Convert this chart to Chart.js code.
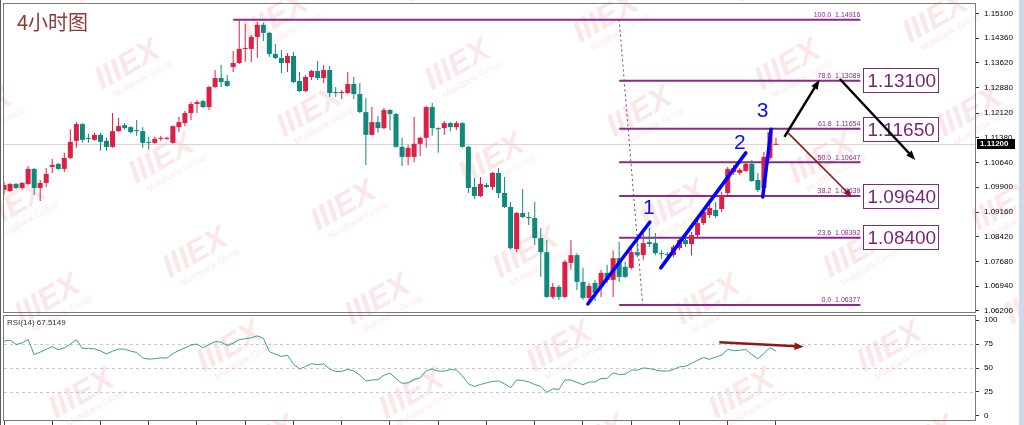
<!DOCTYPE html>
<html>
<head>
<meta charset="utf-8">
<title>4小时图</title>
<script src="https://cdn.jsdelivr.net/npm/chart.js@4.4.1/dist/chart.umd.min.js"></script>
<style>
  html, body { margin: 0; padding: 0; background: #fff; }
  body { width: 1024px; height: 425px; position: relative; overflow: hidden; }
  canvas { position: absolute; left: 0; }
  #main { top: 0; }
  #rsi { top: 313px; }
  .edge { position: absolute; top: 0; height: 425px; }
</style>
</head>
<body>
<canvas id="main" width="1024" height="313"></canvas>
<canvas id="rsi" width="1024" height="112"></canvas>
<div class="edge" style="left:0;width:1px;background:#5a5a5a"></div>
<div class="edge" style="left:1019px;width:5px;background:#cdd9e8"></div>
<script>
// 4H bars, index 0 = oldest bar on screen
const opens = [
  1.0982, 1.0979, 1.1000, 1.0988, 1.1000, 1.1045, 1.0988, 1.1003, 1.1051, 1.1060,
  1.1045, 1.1078, 1.1129, 1.1179, 1.1138, 1.1132, 1.1147, 1.1129, 1.1111, 1.1158,
  1.1176, 1.1170, 1.1161, 1.1158, 1.1126, 1.1123, 1.1135, 1.1135, 1.1123, 1.1170,
  1.1182, 1.1212, 1.1239, 1.1248, 1.1230, 1.1290, 1.1317, 1.1308, 1.1350, 1.1362,
  1.1404, 1.1404, 1.1440, 1.1476, 1.1452, 1.1389, 1.1377, 1.1362, 1.1383, 1.1308,
  1.1278, 1.1320, 1.1338, 1.1317, 1.1341, 1.1275, 1.1272, 1.1272, 1.1299, 1.1269,
  1.1215, 1.1147, 1.1185, 1.1167, 1.1221, 1.1209, 1.1111, 1.1081, 1.1081, 1.1120,
  1.1138, 1.1230, 1.1167, 1.1167, 1.1182, 1.1170, 1.1182, 1.1111, 1.0991, 1.0964,
  1.0997, 1.0991, 1.1033, 1.0973, 1.0931, 1.0805, 1.0913, 1.0901, 1.0898, 1.0838,
  1.0796, 1.0662, 1.0692, 1.0662, 1.0764, 1.0787, 1.0707, 1.0659, 1.0704, 1.0692,
  1.0734, 1.0713, 1.0778, 1.0752, 1.0749, 1.0796, 1.0787, 1.0826, 1.0823, 1.0793,
  1.0790, 1.0787, 1.0808, 1.0832, 1.0820, 1.0847, 1.0883, 1.0907, 1.0922, 1.0925,
  1.0973, 1.1036, 1.1033, 1.1039, 1.1060, 1.1012, 1.0988, 1.1078, 1.1117
];
const highs = [
  1.1006, 1.1003, 1.1003, 1.1006, 1.1054, 1.1048, 1.1012, 1.1048, 1.1075, 1.1063,
  1.1093, 1.1164, 1.1185, 1.1182, 1.1150, 1.1153, 1.1153, 1.1138, 1.1212, 1.1197,
  1.1182, 1.1173, 1.1191, 1.1170, 1.1141, 1.1141, 1.1144, 1.1141, 1.1176, 1.1200,
  1.1218, 1.1245, 1.1251, 1.1251, 1.1293, 1.1341, 1.1356, 1.1326, 1.1398, 1.1492,
  1.1479, 1.1446, 1.1485, 1.1482, 1.1455, 1.1419, 1.1401, 1.1392, 1.1395, 1.1335,
  1.1326, 1.1341, 1.1368, 1.1356, 1.1353, 1.1290, 1.1281, 1.1335, 1.1320, 1.1302,
  1.1257, 1.1230, 1.1203, 1.1227, 1.1224, 1.1212, 1.1138, 1.1117, 1.1200, 1.1141,
  1.1233, 1.1242, 1.1170, 1.1188, 1.1185, 1.1188, 1.1185, 1.1114, 1.1018, 1.1021,
  1.1003, 1.1036, 1.1048, 1.1021, 1.0946, 1.0916, 1.0985, 1.0916, 1.0946, 1.0868,
  1.0832, 1.0704, 1.0698, 1.0773, 1.0832, 1.0793, 1.0749, 1.0704, 1.0713, 1.0743,
  1.0758, 1.0802, 1.0826, 1.0767, 1.0811, 1.0841, 1.0853, 1.0868, 1.0853, 1.0802,
  1.0796, 1.0817, 1.0838, 1.0841, 1.0856, 1.0892, 1.0928, 1.0943, 1.0946, 1.0976,
  1.1051, 1.1057, 1.1048, 1.1066, 1.1072, 1.1033, 1.1096, 1.1165, 1.1138
];
const lows = [
  1.0967, 1.0976, 1.0985, 1.0982, 1.0997, 1.0967, 1.0949, 1.0991, 1.1033, 1.1042,
  1.1036, 1.1075, 1.1108, 1.1123, 1.1123, 1.1129, 1.1099, 1.1099, 1.1108, 1.1155,
  1.1164, 1.1152, 1.1144, 1.1108, 1.1102, 1.1120, 1.1129, 1.1132, 1.1120, 1.1155,
  1.1173, 1.1191, 1.1212, 1.1227, 1.1221, 1.1287, 1.1290, 1.1290, 1.1335, 1.1359,
  1.1365, 1.1365, 1.1377, 1.1428, 1.1380, 1.1374, 1.1332, 1.1335, 1.1302, 1.1275,
  1.1275, 1.1311, 1.1311, 1.1302, 1.1260, 1.1260, 1.1254, 1.1270, 1.1254, 1.1212,
  1.1057, 1.1144, 1.1153, 1.1164, 1.1161, 1.1108, 1.1054, 1.1057, 1.1066, 1.1084,
  1.1108, 1.1144, 1.1093, 1.1147, 1.1158, 1.1161, 1.1108, 1.0973, 1.0955, 1.0961,
  1.0988, 1.0982, 1.0958, 1.0928, 1.0805, 1.0796, 1.0898, 1.0877, 1.0817, 1.0722,
  1.0659, 1.0656, 1.0653, 1.0659, 1.0743, 1.0683, 1.0653, 1.0638, 1.0650, 1.0662,
  1.0704, 1.0662, 1.0707, 1.0719, 1.0743, 1.0781, 1.0773, 1.0811, 1.0787, 1.0776,
  1.0776, 1.0781, 1.0802, 1.0811, 1.0787, 1.0841, 1.0877, 1.0898, 1.0898, 1.0916,
  1.0967, 1.1027, 1.1027, 1.1036, 1.1006, 1.0976, 1.0961, 1.1072, 1.1117
];
const closes = [
  1.0997, 1.1000, 1.0988, 1.1003, 1.1045, 1.0988, 1.1003, 1.1030, 1.1057, 1.1045,
  1.1078, 1.1126, 1.1179, 1.1132, 1.1135, 1.1147, 1.1126, 1.1111, 1.1158, 1.1173,
  1.1167, 1.1155, 1.1158, 1.1123, 1.1123, 1.1135, 1.1138, 1.1138, 1.1173, 1.1185,
  1.1212, 1.1239, 1.1245, 1.1230, 1.1290, 1.1317, 1.1305, 1.1293, 1.1362, 1.1404,
  1.1407, 1.1440, 1.1476, 1.1452, 1.1389, 1.1377, 1.1362, 1.1383, 1.1305, 1.1278,
  1.1320, 1.1338, 1.1317, 1.1341, 1.1272, 1.1272, 1.1275, 1.1299, 1.1269, 1.1215,
  1.1147, 1.1185, 1.1167, 1.1221, 1.1209, 1.1111, 1.1081, 1.1108, 1.1120, 1.1138,
  1.1230, 1.1167, 1.1164, 1.1182, 1.1170, 1.1182, 1.1111, 1.0988, 1.0964, 1.1000,
  1.0991, 1.1033, 1.0973, 1.0931, 1.0808, 1.0913, 1.0901, 1.0898, 1.0838, 1.0796,
  1.0662, 1.0692, 1.0662, 1.0767, 1.0787, 1.0707, 1.0659, 1.0695, 1.0674, 1.0734,
  1.0713, 1.0778, 1.0722, 1.0722, 1.0796, 1.0787, 1.0823, 1.0820, 1.0793, 1.0790,
  1.0787, 1.0811, 1.0832, 1.0820, 1.0847, 1.0883, 1.0916, 1.0928, 1.0904, 1.0967,
  1.1045, 1.1048, 1.1042, 1.1060, 1.1009, 1.0982, 1.1081, 1.1155, 1.1120
];
const rsi = [
  78, 79, 74.5, 76, 79.8, 64, 66.5, 69.5, 72.4, 69,
  71, 74.8, 79.5, 70.5, 70.5, 70, 67.8, 64.6, 67.5, 69.8,
  69.6, 67.6, 66.2, 60.5, 59.2, 59.8, 60.6, 60.3, 65, 68.2,
  71, 74, 75, 71.2, 74.5, 77.5, 77, 73.5, 75.8, 79.5,
  80.6, 81.5, 83.5, 81, 67, 64.5, 62, 63.3, 54, 49,
  51.5, 54.5, 53.5, 54.3, 49, 46.4, 46.5, 48.5, 47, 42.5,
  36.5, 37.5, 37.8, 42.5, 44.6, 39, 34, 34.5, 38, 39.8,
  47, 49, 46.8, 46.8, 48.4, 48, 42, 33.5, 30.7, 32.8,
  34.5, 36, 36.5, 33.5, 29.5, 37.5, 37, 35.5, 32.8, 30.8,
  24.5, 28.4, 27.5, 37.5, 37.4, 35, 32.5, 35.3, 35.5, 39,
  39.2, 45, 43.2, 43.5, 47.8, 47.8, 50, 49.5, 48, 46.8,
  46.8, 48.5, 51.2, 51.8, 54.8, 58, 61, 59, 61.5, 63.5,
  69.5, 68, 68.5, 69.2, 64, 59.6, 65, 71.3, 67.5
];
const rsiLabel = 'RSI(14) 67.5149';

const priceTicks = [1.15100, 1.14360, 1.13620, 1.12880, 1.12120, 1.11380, 1.10640,
                    1.09900, 1.09160, 1.08420, 1.07680, 1.06940, 1.06200];
const rsiTicks = [0, 25, 50, 75, 100];
const rsiLevels = [25, 50, 75];
const timeTicks = [0, 8, 16, 24, 32, 40, 48, 56, 64, 72, 80, 88, 96, 104, 112, 120, 128];
const slots = 161;
const bid = 1.11200;

// fibonacci retracement
const fibLevels = ['100.0', '78.6', '61.8', '50.0', '38.2', '23.6', '0.0'];
const fibPrices = [1.14916, 1.13089, 1.11654, 1.10647, 1.09639, 1.08392, 1.06377];
const fibFrom = [38, 102, 102, 102, 102, 102, 102];
const fibTo = 142;
const fibDiag = [[102, 1.14916], [105.9, 1.06377]];

// boxed target prices
const targetPrices = [1.13100, 1.11650, 1.09640, 1.08400];
const targetAt = 142.5;

// wave count
const waveLines = [
  [[96.8, 1.0641], [107.1, 1.0886]],
  [[108.9, 1.0749], [123.0, 1.1093]],
  [[125.8, 1.0961], [127.2, 1.1164]]
];
const waveNames = ['1', '2', '3'];
const waveLabelAt = [[106.9, 1.0928], [122.0, 1.1123], [125.8, 1.1218]];

const blackArrows = [
  [[129.4, 1.1141], [135.2, 1.1311]],
  [[138.6, 1.1314], [151.1, 1.1072]]
];
const redArrow = [[130.0, 1.1153], [140.6, 1.0961]];
const rsiArrow = [[118.6, 76.8], [132.6, 72.2]];

const UP = '#dc1f45', DOWN = '#0f897b', FIB = '#8a2a8a';
const candleColors = closes.map((c, i) => c >= opens[i] ? UP : DOWN);

function drawArrow(ctx, x1, y1, x2, y2, color, w, head) {
  const ang = Math.atan2(y2 - y1, x2 - x1);
  ctx.strokeStyle = color;
  ctx.fillStyle = color;
  ctx.lineWidth = w;
  ctx.beginPath();
  ctx.moveTo(x1, y1);
  ctx.lineTo(x2 - Math.cos(ang) * head * 0.7, y2 - Math.sin(ang) * head * 0.7);
  ctx.stroke();
  ctx.beginPath();
  ctx.moveTo(x2, y2);
  ctx.lineTo(x2 - head * Math.cos(ang - 0.38), y2 - head * Math.sin(ang - 0.38));
  ctx.lineTo(x2 - head * Math.cos(ang + 0.38), y2 - head * Math.sin(ang + 0.38));
  ctx.closePath();
  ctx.fill();
}

// broker watermark, tiled over the whole window
function watermarks(offY) {
  return {
    id: 'marks',
    beforeDraw(chart) {
      const ctx = chart.ctx;
      ctx.save();
      ctx.fillStyle = 'rgba(225,60,80,0.13)';
      ctx.textAlign = 'center';
      for (let n = -2; n < 9; n++) {
        const y = 73 + 47 * n - offY;
        const x0 = ((132 + 182 * n) % 330 + 330) % 330;
        for (let x = x0 - 330; x < 1150; x += 330) {
          ctx.save();
          ctx.translate(x, y);
          ctx.rotate(-0.52);
          ctx.font = 'italic bold 32px "Liberation Sans"';
          ctx.fillText('IIIEX', 0, 0);
          ctx.font = '9px "Liberation Sans"';
          ctx.fillText('MultiBank Group', 6, 13);
          ctx.restore();
        }
      }
      ctx.restore();
    }
  };
}

const frame = {
  id: 'frame',
  afterDraw(chart) {
    const {ctx, chartArea: a} = chart;
    ctx.save();
    ctx.strokeStyle = '#7a7a7a';
    ctx.lineWidth = 1;
    ctx.strokeRect(a.left - 0.5, a.top - 0.5, a.right - a.left + 1, a.bottom - a.top + 1);
    ctx.restore();
  }
};

const mainNotes = {
  id: 'mainNotes',
  beforeDatasetsDraw(chart) {
    const {ctx, chartArea: a, scales: {y}} = chart;
    const py = Math.round(y.getPixelForValue(bid)) + 0.5;
    ctx.save();
    ctx.strokeStyle = '#dcd4d4';
    ctx.lineWidth = 1;
    ctx.beginPath();
    ctx.moveTo(a.left, py);
    ctx.lineTo(a.right, py);
    ctx.stroke();
    ctx.restore();
  },
  afterDatasetsDraw(chart) {
    const {ctx, scales: {x, y}} = chart;
    ctx.save();

    ctx.font = '7px "Liberation Sans"';
    ctx.fillStyle = FIB;
    ctx.textAlign = 'right';
    ctx.textBaseline = 'bottom';
    fibPrices.forEach((p, k) => {
      ctx.fillText(fibLevels[k] + '  ' + p.toFixed(5), x.getPixelForValue(fibTo), y.getPixelForValue(p) - 1);
    });

    ctx.textAlign = 'left';
    ctx.textBaseline = 'middle';
    ctx.lineWidth = 1;
    ctx.strokeStyle = '#7b2d7b';
    ctx.font = '19px "Liberation Sans"';
    targetPrices.forEach(p => {
      const left = Math.round(x.getPixelForValue(targetAt)) + 0.5;
      const top = Math.round(y.getPixelForValue(p) - 12) + 0.5;
      ctx.fillStyle = '#fff';
      ctx.fillRect(left, top, 75, 24);
      ctx.strokeRect(left, top, 75, 24);
      ctx.fillStyle = '#7a1f7a';
      ctx.fillText(p.toFixed(5), left + 4, top + 13);
    });

    ctx.font = '21px "Liberation Sans"';
    ctx.fillStyle = '#0a0aff';
    ctx.textAlign = 'center';
    waveLabelAt.forEach((pt, k) => {
      ctx.fillText(waveNames[k], x.getPixelForValue(pt[0]), y.getPixelForValue(pt[1]));
    });

    blackArrows.forEach(([a, b]) => {
      drawArrow(ctx, x.getPixelForValue(a[0]), y.getPixelForValue(a[1]),
                x.getPixelForValue(b[0]), y.getPixelForValue(b[1]), '#000', 2.5, 10);
    });
    drawArrow(ctx, x.getPixelForValue(redArrow[0][0]), y.getPixelForValue(redArrow[0][1]),
              x.getPixelForValue(redArrow[1][0]), y.getPixelForValue(redArrow[1][1]), '#8b1a1a', 1.6, 9);

    ctx.font = '20px "Noto Sans CJK SC"';
    ctx.fillStyle = '#8b3a3a';
    ctx.textAlign = 'left';
    ctx.textBaseline = 'middle';
    ctx.fillText('4小时图', 17, 22);
    ctx.restore();
  },
  afterDraw(chart) {
    const {ctx, scales: {y}} = chart;
    const py = Math.round(y.getPixelForValue(bid));
    ctx.save();
    ctx.fillStyle = '#000';
    ctx.fillRect(977, py - 5, 38, 10);
    ctx.fillStyle = '#fff';
    ctx.font = 'bold 8px "Liberation Sans"';
    ctx.textBaseline = 'middle';
    ctx.fillText(bid.toFixed(5), 980, py);
    ctx.restore();
  }
};

const rsiNotes = {
  id: 'rsiNotes',
  beforeDatasetsDraw(chart) {
    const {ctx, chartArea: a, scales: {y}} = chart;
    ctx.save();
    ctx.strokeStyle = '#d6c4c4';
    ctx.lineWidth = 1;
    ctx.setLineDash([3, 3]);
    rsiLevels.forEach(l => {
      const py = Math.round(y.getPixelForValue(l)) + 0.5;
      ctx.beginPath();
      ctx.moveTo(a.left, py);
      ctx.lineTo(a.right, py);
      ctx.stroke();
    });
    ctx.restore();
  },
  afterDatasetsDraw(chart) {
    const {ctx, scales: {x, y}} = chart;
    ctx.save();
    drawArrow(ctx, x.getPixelForValue(rsiArrow[0][0]), y.getPixelForValue(rsiArrow[0][1]),
              x.getPixelForValue(rsiArrow[1][0]), y.getPixelForValue(rsiArrow[1][1]), '#8b1a1a', 2.5, 10);
    ctx.font = '8px "Liberation Sans"';
    ctx.fillStyle = '#333';
    ctx.textBaseline = 'middle';
    ctx.fillText(rsiLabel, 7, 10);
    ctx.restore();
  }
};

const lineSet = (pts, color, width, order, dash) => ({
  type: 'line',
  order: order,
  data: pts.map(p => ({x: p[0], y: p[1]})),
  borderColor: color,
  borderWidth: width,
  borderDash: dash || [],
  pointRadius: 0,
  tension: 0,
  fill: false
});

const mainSets = [];
fibPrices.forEach((p, k) => mainSets.push(lineSet([[fibFrom[k], p], [fibTo, p]], FIB, 2, 10)));
mainSets.push(lineSet(fibDiag, FIB, 1, 9, [2, 3]));
mainSets.push({
  type: 'bar', order: 5, grouped: false,
  data: lows.map((l, i) => ({x: i, y: [l, highs[i]]})),
  backgroundColor: candleColors, barThickness: 1, borderWidth: 0, inflateAmount: 0
});
mainSets.push({
  type: 'bar', order: 4, grouped: false,
  data: opens.map((o, i) => ({x: i, y: [o, closes[i]]})),
  backgroundColor: candleColors, barThickness: 5, minBarLength: 1, borderWidth: 0, inflateAmount: 0
});
waveLines.forEach(w => {
  const s = lineSet(w, '#0000ff', 3.5, 1);
  s.borderCapStyle = 'round';
  mainSets.push(s);
});

const axisFont = {family: 'Liberation Sans', size: 8};
// keep the plot edge where the terminal puts it: no extra label padding
const fitRight = s => { s.width = 49; s.paddingTop = 0; s.paddingBottom = 0; };

new Chart(document.getElementById('main'), {
  type: 'bar',
  data: {datasets: mainSets},
  options: {
    responsive: false,
    animation: false,
    devicePixelRatio: 1,
    events: [],
    layout: {padding: {left: 4, top: 4, right: 0, bottom: 1}},
    plugins: {legend: {display: false}, tooltip: {enabled: false}},
    scales: {
      x: {type: 'linear', min: 0, max: slots, offset: false, display: false},
      y: {
        position: 'right', min: 1.06169, max: 1.15384, beginAtZero: false,
        afterFit: fitRight,
        afterBuildTicks: s => { s.ticks = priceTicks.map(v => ({value: v})); },
        ticks: {callback: v => v.toFixed(5), color: '#000', font: axisFont, padding: 5, autoSkip: false},
        grid: {drawOnChartArea: false, tickLength: 4, tickColor: '#333'},
        border: {display: false}
      }
    }
  },
  plugins: [watermarks(0), mainNotes, frame]
});

new Chart(document.getElementById('rsi'), {
  type: 'line',
  data: {
    datasets: [{
      data: rsi.map((v, i) => ({x: i, y: v})),
      borderColor: '#3a9c9c', borderWidth: 1, pointRadius: 0, tension: 0, fill: false
    }]
  },
  options: {
    responsive: false,
    animation: false,
    devicePixelRatio: 1,
    events: [],
    layout: {padding: {left: 4, top: 3, right: 0, bottom: 0}},
    plugins: {legend: {display: false}, tooltip: {enabled: false}},
    scales: {
      x: {
        type: 'linear', min: 0, max: slots, offset: false,
        afterFit: s => { s.height = 5; s.paddingLeft = 0; s.paddingRight = 0; },
        afterBuildTicks: s => { s.ticks = timeTicks.map(v => ({value: v})); },
        ticks: {display: false},
        grid: {drawOnChartArea: false, tickLength: 5, tickColor: '#444'},
        border: {display: false}
      },
      y: {
        position: 'right', min: -4.2, max: 104.2,
        afterFit: fitRight,
        afterBuildTicks: s => { s.ticks = rsiTicks.map(v => ({value: v})); },
        ticks: {callback: v => String(v), color: '#000', font: axisFont, padding: 5, autoSkip: false},
        grid: {drawOnChartArea: false, tickLength: 4, tickColor: '#333'},
        border: {display: false}
      }
    }
  },
  plugins: [watermarks(313), rsiNotes, frame]
});
</script>
</body>
</html>
